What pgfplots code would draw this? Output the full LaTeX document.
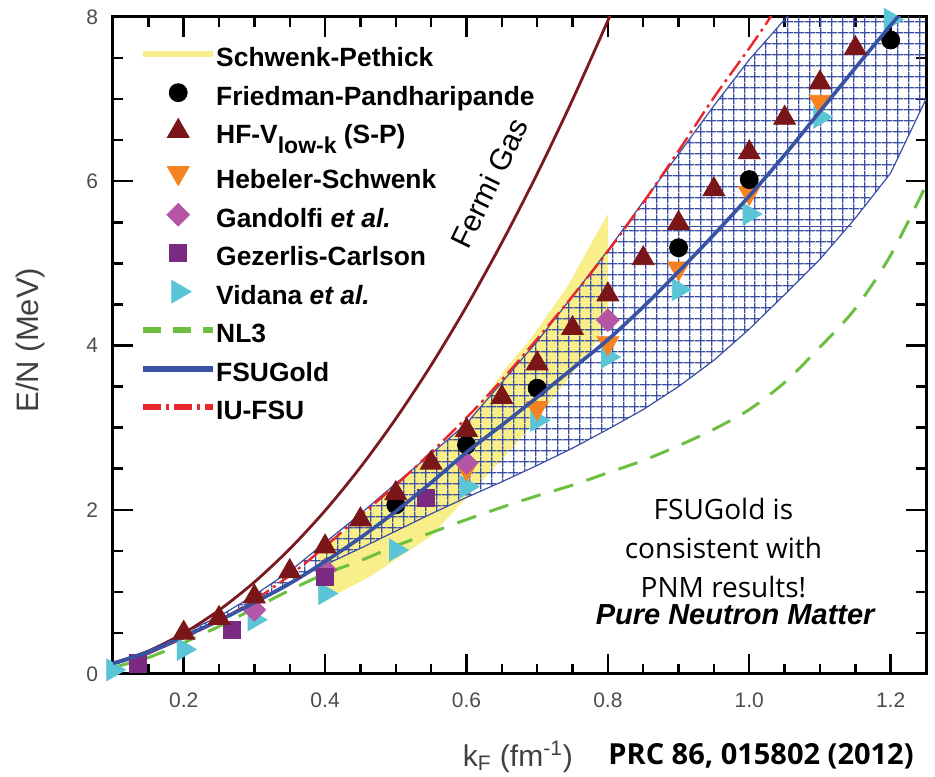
\documentclass[border=0pt]{standalone}
\usepackage{fontspec}
\setmainfont{Liberation Sans}
\newfontfamily\comic{Open Sans}
\usepackage{pgfplots}
\pgfplotsset{compat=1.18}
\usetikzlibrary{patterns.meta}

\definecolor{fermired}{HTML}{7A1A1E}
\definecolor{hfred}{HTML}{7A1518}
\definecolor{hsorange}{HTML}{F58220}
\definecolor{gandpink}{HTML}{B455A6}
\definecolor{gcpurple}{HTML}{7A2A80}
\definecolor{vidcyan}{HTML}{5BC5D8}
\definecolor{nlgreen}{HTML}{6CBF3F}
\definecolor{fsublue}{HTML}{3852A4}
\definecolor{iured}{HTML}{E8262B}
\definecolor{spyellow}{HTML}{F8EF8A}
\definecolor{hatchblue}{HTML}{3B50A5}

% row struts for the legend
\newcommand\ls{\rule[-5pt]{0pt}{19.25pt}}
\newcommand\lsb{\rule[-5pt]{0pt}{22.5pt}}

\pgfplotsset{
  linelegend/.style={legend image code/.code={\draw[##1, line width=3pt] (0pt,0pt) -- (35pt,0pt);}},
  marklegend/.style={legend image code/.code={\draw[##1] plot coordinates {(17.5pt,0pt)};}},
}

\begin{document}
\begin{tikzpicture}
\begin{axis}[
  name=ax,
  scale only axis, width=406.5pt, height=328.5pt,
  xmin=0.1, xmax=1.25, ymin=0, ymax=8,
  xtick={0.2,0.4,0.6,0.8,1.0,1.2},
  xticklabels={0.2,0.4,0.6,0.8,1.0,1.2},
  minor xtick={0.1,0.15,0.25,0.3,0.35,0.45,0.5,0.55,0.65,0.7,0.75,0.85,0.9,0.95,1.05,1.1,1.15,1.25},
  ytick={0,2,4,6,8},
  minor ytick={0.5,1,1.5,2.5,3,3.5,4.5,5,5.5,6.5,7,7.5},
  tick align=inside,
  major tick length=10pt, minor tick length=5pt,
  tick style={black, line width=1.2pt},
  axis line style={line width=1.5pt},
  tick label style={font=\fontsize{10.5}{12}\selectfont, text=black!70},
  xticklabel style={yshift=-6pt},
  yticklabel style={xshift=-4pt},
  /pgf/number format/assume math mode=true,
  clip mode=individual,
  legend cell align=left,
  legend style={at={(rel axis cs:0.033,0.968)}, anchor=north west,
    draw=none, fill=none, inner sep=0pt, row sep=3.5pt,
    font=\fontsize{13.2}{15}\selectfont\bfseries,
    nodes={inner sep=0pt},
    /tikz/every even column/.append style={column sep=4pt}},
]

% legend entries
\addlegendimage{linelegend, draw=spyellow}
\addlegendentry{\ls Schwenk-Pethick}
\addlegendimage{marklegend, only marks, mark=*, black, mark size=4.5pt}
\addlegendentry{\ls Friedman-Pandharipande}
\addlegendimage{marklegend, only marks, mark=triangle*, hfred, mark size=6.3pt}
\addlegendentry{\ls HF-V\raisebox{-5pt}{\fontsize{11.5}{13}\selectfont low-k} (S-P)}
\addlegendimage{marklegend, only marks, mark=triangle*, hsorange, mark size=6.3pt, mark options={rotate=180}}
\addlegendentry{\lsb Hebeler-Schwenk}
\addlegendimage{marklegend, only marks, mark=square*, gandpink, mark size=4pt, mark options={rotate=45}}
\addlegendentry{\ls Gandolfi \textit{et al.}}
\addlegendimage{marklegend, only marks, mark=square*, gcpurple, mark size=4.3pt}
\addlegendentry{\ls Gezerlis-Carlson}
\addlegendimage{marklegend, only marks, mark=triangle*, vidcyan, mark size=6.5pt, mark options={rotate=-90}}
\addlegendentry{\ls Vidana \textit{et al.}}
\addlegendimage{linelegend, nlgreen, dash pattern=on 9pt off 6pt}
\addlegendentry{\ls NL3}
\addlegendimage{linelegend, fsublue}
\addlegendentry{\ls FSUGold}
\addlegendimage{linelegend, iured, line width=1.5pt, dash pattern=on 9pt off 2.5pt on 1.5pt off 2.5pt}
\addlegendentry{\ls IU-FSU}

% Schwenk-Pethick band
\addplot[forget plot, fill=spyellow, draw=none] coordinates {
  (0.39,0.85) (0.39,1.45) (0.5,2.3) (0.6,3.05) (0.657,3.74) (0.69,4.07)
  (0.743,4.72) (0.78,5.3) (0.8,5.6) (0.8,4.3) (0.78,4.0) (0.74,3.55)
  (0.67,2.8) (0.6,2.15) (0.55,1.68) (0.466,1.2) (0.39,0.85)
};

% hatched band
\pgfplotstableread{
x y
0.1 0.14
0.15 0.28
0.2 0.5
0.25 0.7
0.3 0.96
0.35 1.25
0.4 1.6
0.45 1.95
0.5 2.32
0.55 2.68
0.6 3.05
0.65 3.55
0.7 4.05
0.75 4.6
0.8 5.16
0.85 5.75
0.9 6.33
0.95 6.92
1.0 7.48
1.05 7.97
1.1 8.45
1.3 8.45
1.3 7.9
1.25 7.0
1.2 6.1
1.15 5.55
1.1 5.05
1.05 4.62
1.0 4.2
0.95 3.82
0.9 3.5
0.85 3.22
0.8 2.98
0.75 2.75
0.7 2.54
0.65 2.34
0.6 2.15
0.55 1.95
0.5 1.74
0.45 1.53
0.4 1.33
0.35 1.12
0.3 0.88
0.25 0.64
0.2 0.43
0.15 0.24
0.1 0.11
0.1 0.14
}\bandtable
\addplot[forget plot, draw=none, pattern={Lines[angle=0, distance=5.35pt, line width=0.6pt]}, pattern color=hatchblue] table {\bandtable};
\addplot[forget plot, draw=hatchblue, line width=0.6pt, pattern={Lines[angle=90, distance=5.35pt, line width=0.6pt]}, pattern color=hatchblue] table {\bandtable};
\addplot[forget plot, hatchblue, line width=0.8pt] coordinates {(0.818,5.45) (1.146,5.45)};

% Fermi gas
\addplot[forget plot, fermired, line width=1.4pt, smooth] coordinates {
  (0.1,0.124) (0.15,0.280) (0.2,0.497) (0.25,0.777) (0.3,1.119) (0.35,1.523)
  (0.4,1.989) (0.45,2.517) (0.5,3.108) (0.55,3.760) (0.6,4.475) (0.65,5.252)
  (0.7,6.091) (0.75,6.992) (0.8,7.955) (0.82,8.36)
};

% NL3
\addplot[forget plot, nlgreen, line width=1.5pt, dash pattern=on 10pt off 7pt, smooth] coordinates {
  (0.1,0.08) (0.15,0.2) (0.2,0.38) (0.25,0.58) (0.3,0.8) (0.35,1.02) (0.4,1.22)
  (0.45,1.38) (0.5,1.56) (0.55,1.72) (0.6,1.88) (0.65,2.03) (0.7,2.17) (0.75,2.3)
  (0.8,2.45) (0.85,2.6) (0.9,2.78) (0.95,2.98) (1.0,3.22) (1.05,3.55) (1.1,3.98)
  (1.15,4.45) (1.2,5.1) (1.25,5.95)
};

% IU-FSU
\addplot[forget plot, iured, line width=1.2pt, dash pattern=on 9pt off 2.5pt on 1.5pt off 2.5pt, smooth] coordinates {
  (0.1,0.13) (0.15,0.26) (0.2,0.44) (0.25,0.65) (0.3,0.9) (0.35,1.2) (0.4,1.55)
  (0.45,1.93) (0.5,2.3) (0.55,2.7) (0.6,3.12) (0.65,3.58) (0.7,4.08) (0.75,4.6)
  (0.8,5.15) (0.85,5.74) (0.9,6.37) (0.95,7.02) (1.0,7.62) (1.03,8.0) (1.05,8.3)
};

% markers
\addplot[forget plot, only marks, mark=triangle*, vidcyan, mark size=6.3pt, mark options={rotate=-90}] coordinates {
  (0.1,0.05) (0.2,0.3) (0.3,0.66) (0.4,0.98) (0.5,1.51) (0.6,2.28) (0.7,3.09)
  (0.8,3.86) (0.9,4.68) (1.0,5.6) (1.1,6.78) (1.2,7.97)
};
\addplot[forget plot, only marks, mark=triangle*, hsorange, mark size=6.3pt, mark options={rotate=180}] coordinates {
  (0.6,2.5) (0.7,3.24) (0.8,4.03) (0.9,4.94) (1.0,5.86) (1.1,6.97)
};
\addplot[forget plot, only marks, mark=square*, gandpink, mark size=4pt, mark options={rotate=45}] coordinates {
  (0.3,0.78) (0.4,1.27) (0.6,2.57) (0.8,4.31)
};
\addplot[forget plot, only marks, mark=square*, gcpurple, mark size=4.3pt] coordinates {
  (0.135,0.13) (0.268,0.54) (0.4,1.18) (0.543,2.14)
};
\addplot[forget plot, only marks, mark=*, black, mark size=4.5pt] coordinates {
  (0.5,2.06) (0.6,2.79) (0.7,3.48) (0.9,5.19) (1.0,6.02) (1.2,7.72)
};

% FSUGold
\addplot[forget plot, fsublue, line width=1.8pt, smooth] coordinates {
  (0.1,0.13) (0.15,0.27) (0.2,0.46) (0.25,0.65) (0.3,0.87) (0.35,1.1) (0.4,1.37)
  (0.45,1.66) (0.5,1.98) (0.55,2.33) (0.6,2.7) (0.65,3.03) (0.7,3.37) (0.75,3.72)
  (0.8,4.07) (0.85,4.47) (0.9,4.9) (0.95,5.35) (1.0,5.82) (1.05,6.32) (1.1,6.85)
  (1.15,7.38) (1.2,7.9) (1.25,8.4)
};

\addplot[forget plot, only marks, mark=triangle*, hfred, mark size=6.3pt] coordinates {
  (0.2,0.5) (0.25,0.68) (0.3,0.94) (0.35,1.25) (0.4,1.55) (0.45,1.88) (0.5,2.2)
  (0.55,2.57) (0.6,2.97) (0.65,3.37) (0.7,3.78) (0.75,4.21) (0.8,4.62) (0.85,5.06)
  (0.9,5.49) (0.95,5.9) (1.0,6.35) (1.05,6.77) (1.1,7.2) (1.15,7.62) (1.2,8.08)
};

% annotations
\node[rotate=64, font=\fontsize{15}{18}\selectfont] at (axis cs:0.632,5.98) {Fermi Gas};
\node[align=center, font=\comic\fontsize{14}{19.5}\selectfont] at (axis cs:0.9635,1.53) {FSUGold is\\consistent with\\PNM results!};
\node[font=\fontsize{14.5}{17}\selectfont\bfseries\itshape] at (axis cs:0.98,0.72) {Pure Neutron Matter};
\node[rotate=90, font=\fontsize{15.5}{18}\selectfont, text=black!75] at (rel axis cs:-0.102,0.508) {E/N (MeV)};
\node[font=\fontsize{15}{18}\selectfont, text=black!75] at (rel axis cs:0.498,-0.126) {k\textsubscript{F} (fm\textsuperscript{-1})};
\node[font=\comic\fontsize{14.5}{17}\selectfont\bfseries] at (rel axis cs:0.797,-0.126) {PRC 86, 015802 (2012)};
\end{axis}
\pgfresetboundingbox
\path ([xshift=-56.5pt,yshift=-51.5pt]ax.south west) rectangle ([xshift=4.5pt,yshift=8.5pt]ax.north east);
\end{tikzpicture}
\end{document}
